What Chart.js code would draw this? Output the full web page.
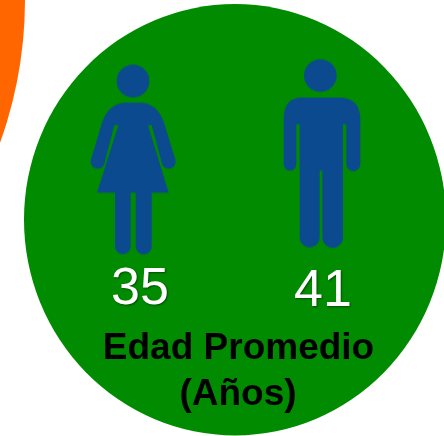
<!DOCTYPE html>
<html>
<head>
<meta charset="utf-8">
<script src="https://cdn.jsdelivr.net/npm/chart.js@4"></script>
<style>
    html, body { margin: 0; padding: 0; background: #ffffff; overflow: hidden; }
    canvas { display: block; }
</style>
</head>
<body>
<canvas id="chart1" width="444" height="436"></canvas>
<script>
const categories = ['Mujeres', 'Hombres'];
const edades = [35, 41];
const titulo = ['Edad Promedio', '(Años)'];

const AZUL = '#0c4a90';
const VERDE = '#008b00';
const NARANJA = '#ff6600';

// Crea un canvas para usar como pointStyle (dibujado en coordenadas x3)
function crearIcono(cx, cy, dibujar) {
    const c = document.createElement('canvas');
    c.width = 90;
    c.height = 200;
    const ctx = c.getContext('2d');
    ctx.fillStyle = AZUL;
    ctx.translate(45, 100);
    ctx.scale(1 / 3, 1 / 3);
    ctx.translate(-cx, -cy);
    dibujar(ctx);
    return c;
}

function circulo(ctx, x, y, r) {
    ctx.beginPath();
    ctx.arc(x, y, r, 0, Math.PI * 2);
    ctx.fill();
}

const iconoMujer = crearIcono(160, 325, function (ctx) {
    circulo(ctx, 160, 90, 49);
    // Vestido y brazos
    ctx.beginPath();
    ctx.moveTo(135, 155);
    ctx.lineTo(185, 155);
    ctx.quadraticCurveTo(232, 158, 252, 212);
    ctx.lineTo(287, 326);
    ctx.lineTo(247, 338);
    ctx.lineTo(216, 222);
    ctx.lineTo(205, 222);
    ctx.lineTo(267, 425);
    ctx.lineTo(52, 425);
    ctx.lineTo(116, 222);
    ctx.lineTo(104, 222);
    ctx.lineTo(74, 338);
    ctx.lineTo(34, 326);
    ctx.lineTo(68, 212);
    ctx.quadraticCurveTo(88, 158, 135, 155);
    ctx.fill();
    circulo(ctx, 54, 332, 21);
    circulo(ctx, 267, 332, 21);
    // Piernas
    ctx.beginPath();
    ctx.moveTo(106, 420);
    ctx.lineTo(153, 420);
    ctx.lineTo(153, 586);
    ctx.arc(129.5, 586, 23.5, 0, Math.PI);
    ctx.closePath();
    ctx.moveTo(168, 420);
    ctx.lineTo(216, 420);
    ctx.lineTo(216, 586);
    ctx.arc(192, 586, 24, 0, Math.PI);
    ctx.closePath();
    ctx.fill();
});

const iconoHombre = crearIcono(155, 306, function (ctx) {
    circulo(ctx, 150, 72, 49);
    ctx.beginPath();
    ctx.moveTo(90, 138);
    ctx.lineTo(210, 138);
    ctx.quadraticCurveTo(270, 140, 270, 205);
    ctx.lineTo(270, 338);
    ctx.arc(249, 338, 21, 0, Math.PI);
    ctx.lineTo(228, 218);
    ctx.lineTo(218, 218);
    ctx.lineTo(218, 558);
    ctx.arc(187, 558, 31, 0, Math.PI);
    ctx.lineTo(156, 358);
    ctx.lineTo(148, 358);
    ctx.lineTo(148, 558);
    ctx.arc(118, 558, 30, 0, Math.PI);
    ctx.lineTo(88, 218);
    ctx.lineTo(78, 218);
    ctx.lineTo(78, 338);
    ctx.arc(59, 338, 19, 0, Math.PI);
    ctx.lineTo(40, 205);
    ctx.quadraticCurveTo(40, 140, 90, 138);
    ctx.fill();
});

// Fondo (circulos) y textos
const infografia = {
    id: 'infografia',
    beforeDatasetsDraw(chart) {
        const ctx = chart.ctx;
        ctx.save();
        ctx.fillStyle = NARANJA;
        ctx.beginPath();
        ctx.arc(-395, 0, 420, 0, Math.PI * 2);
        ctx.fill();
        // El circulo verde es un poco mas alto que ancho
        ctx.fillStyle = VERDE;
        ctx.beginPath();
        ctx.ellipse(235, 219.7, 211, 215.7, 0, 0, Math.PI * 2);
        ctx.fill();
        ctx.restore();
    },
    afterDatasetsDraw(chart) {
        const ctx = chart.ctx;
        const meta = chart.getDatasetMeta(0);
        ctx.save();
        ctx.textAlign = 'center';
        ctx.textBaseline = 'alphabetic';

        // Edades debajo de cada figura
        ctx.font = "52px 'Liberation Sans', Arial, sans-serif";
        ctx.fillStyle = '#ffffff';
        ctx.shadowColor = 'rgba(0,0,0,0.45)';
        ctx.shadowBlur = 2;
        ctx.shadowOffsetX = 1;
        ctx.shadowOffsetY = 1;
        ctx.fillText(edades[0], meta.data[0].x + 7, 304);
        ctx.fillText(edades[1], meta.data[1].x + 1, 306);

        ctx.shadowColor = 'transparent';
        ctx.font = "bold 37px 'Liberation Sans', Arial, sans-serif";
        ctx.fillStyle = '#000000';
        ctx.fillText(titulo[0], 238.5, 359);
        ctx.fillText(titulo[1], 238, 405);
        ctx.restore();
    }
};

const config1 = {
    type: 'line',
    data: {
        labels: categories,
        datasets: [{
            label: 'Edad Promedio (Años)',
            data: edades,
            showLine: false,
            clip: false,
            pointStyle: [iconoMujer, iconoHombre]
        }]
    },
    options: {
        responsive: false,
        animation: false,
        layout: { padding: { left: 133, right: 122, top: 0, bottom: 0 } },
        plugins: {
            legend: { display: false },
            tooltip: { enabled: false }
        },
        scales: {
            x: { display: false, offset: false },
            // 1 unidad = 1 px
            y: { display: false, min: -243, max: 193 }
        }
    },
    plugins: [infografia]
};

new Chart(document.getElementById('chart1'), config1);
</script>
</body>
</html>
